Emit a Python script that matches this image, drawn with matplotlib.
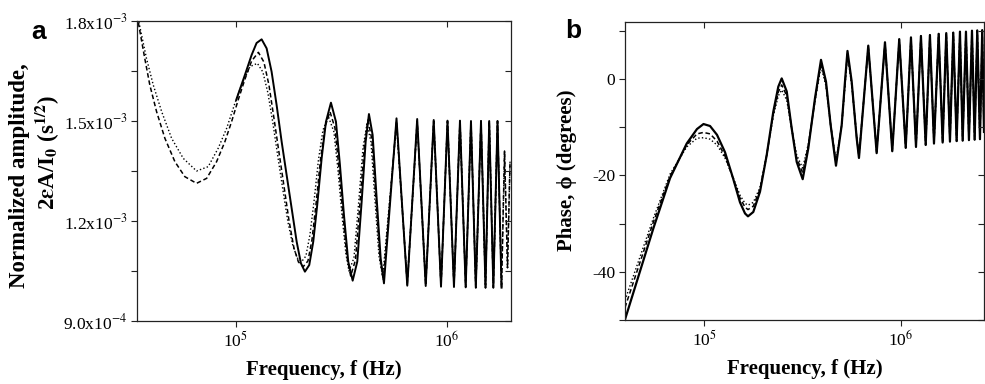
import matplotlib
matplotlib.use("Agg")
import matplotlib.pyplot as plt
import numpy as np

# ---------------- data ----------------
# Panel a: frequency in kHz, normalized amplitude in units of 1e-3 s^1/2
fa_solid = [100.3, 110.3, 118.7, 125.3, 132.4, 139.8, 147.6, 155.9, 164.7, 173.9,
            183.7, 194.0, 203.3, 212.3, 222.6, 232.5, 242.8, 254.8, 267.1, 282.0,
            297.8, 311.1, 325.0, 340.6, 357.4, 375.8, 394.2, 411.8, 426.8, 444.4,
            464.3, 485.1, 502.8, 576.5, 648.4, 722.4, 792.8, 865, 936.7, 1005.5,
            1079, 1152, 1226, 1299, 1369, 1449, 1522, 1585, 1658, 1735, 1813]
va_solid = [1.563, 1.638, 1.698, 1.734, 1.745, 1.718, 1.648, 1.548, 1.438, 1.338,
            1.238, 1.138, 1.073, 1.048, 1.068, 1.138, 1.248, 1.388, 1.498, 1.555,
            1.498, 1.368, 1.218, 1.078, 1.021, 1.078, 1.258, 1.438, 1.521, 1.458,
            1.268, 1.088, 1.013, 1.508, 1.006, 1.506, 1.005, 1.503, 1.003, 1.501,
            1.002, 1.501, 1.001, 1.50, 1.0, 1.5, 1.0, 1.5, 1.0, 1.5, 1.0]

fa_dash = [34.5, 37.0, 39.1, 42.1, 46.1, 51.4, 57.3, 65.1, 72.7, 81.0,
           88.7, 95.4, 102.5, 110.3, 118.7, 127.8, 135.7, 143.4, 151.4, 159.9,
           168.9, 178.3, 188.3, 197.8, 208.4, 219.4, 229.2, 239.4, 251.5, 264.2,
           279.0, 294.6, 307.7, 321.5, 335.8, 349.7, 368.5, 387.0, 406.4, 422.2,
           441.1, 460.8, 481.4, 499.0, 576.5, 648.4, 722.4, 792.8, 865, 936.7,
           1005.5, 1079, 1152, 1226, 1299, 1369, 1449, 1522, 1585, 1658,
           1735, 1813, 1873, 1935, 1989]
va_dash = [1.795, 1.688, 1.608, 1.528, 1.448, 1.378, 1.333, 1.313, 1.328, 1.378,
           1.438, 1.498, 1.563, 1.625, 1.68, 1.706, 1.677, 1.608, 1.509, 1.407,
           1.305, 1.203, 1.119, 1.077, 1.063, 1.080, 1.143, 1.248, 1.383, 1.482,
           1.528, 1.479, 1.359, 1.218, 1.092, 1.035, 1.083, 1.254, 1.428, 1.503,
           1.443, 1.263, 1.089, 1.023, 1.50, 1.01, 1.50, 1.007, 1.50, 1.005,
           1.50, 1.003, 1.50, 1.002, 1.50, 1.0, 1.5, 1.0, 1.5, 1.0,
           1.5, 1.0, 1.41, 1.06, 1.38]

fa_dot = [34.7, 37.7, 40.6, 44.5, 49.6, 56.3, 65.1, 73.9, 82.4, 90.4,
          98.9, 106.4, 116.5, 126.4, 134.2, 141.8, 149.7, 158.1, 167.0, 176.4,
          186.3, 195.6, 204.8, 214.6, 224.2, 234.3, 246.0, 258.5, 274.4, 291.4,
          304.4, 318.0, 332.1, 343.2, 362.4, 380.7, 399.9, 417.7, 436.4, 455.8,
          476.2, 495.8, 576.5, 648.4, 722.4, 792.8, 865, 936.7, 1005.5, 1079,
          1152, 1226, 1299, 1369, 1449, 1522, 1585, 1658, 1735, 1813,
          1873, 1935, 1989]
va_dot = [1.797, 1.688, 1.608, 1.528, 1.448, 1.388, 1.35, 1.363, 1.418, 1.478,
          1.553, 1.608, 1.663, 1.673, 1.647, 1.584, 1.494, 1.392, 1.293, 1.197,
          1.125, 1.089, 1.078, 1.095, 1.158, 1.257, 1.383, 1.473, 1.513, 1.467,
          1.353, 1.218, 1.101, 1.05, 1.089, 1.248, 1.419, 1.491, 1.437, 1.263,
          1.095, 1.032, 1.49, 1.015, 1.495, 1.01, 1.498, 1.007, 1.5, 1.005,
          1.5, 1.003, 1.5, 1.0, 1.5, 1.0, 1.5, 1.0, 1.5, 1.0,
          1.41, 1.06, 1.38]

# Panel b: frequency in kHz, phase in degrees
fb = [39.7, 55.3, 67.2, 81.7, 92.1, 99.4, 107.3, 116.4, 127.8, 140.4,
      152.3, 161.5, 167.2, 177.9, 192.4, 208.1, 224.8, 238.4, 248, 263.0,
      278.7, 295.5, 317, 338.4, 366.0, 392.6, 416.2, 439.6, 467.8, 500,
      519.7, 535.1, 562.0, 595.8, 612, 682.3, 752.6, 829.5, 903.3, 980,
      1057, 1124, 1192, 1263, 1335, 1403, 1471, 1554, 1628, 1698,
      1773, 1843, 1917, 1993, 2057, 2138, 2214, 2294, 2366, 2440,
      2518, 2586, 2640]
pb_solid = [-49.9, -31.0, -20.6, -13.4, -10.4, -9.36, -9.77, -11.6, -15.2, -20.6,
            -25.6, -27.9, -28.5, -27.6, -23.4, -15.8, -6.8, -1.6, 0.1, -2.6,
            -10.25, -17.2, -20.8, -14.4, -4.0, 3.95, -0.56, -9.6, -18.0, -9.6,
            -0.56, 5.8, -0.56, -12.3, -16.4, 6.9, -15.4, 7.6, -15.0, 8.25,
            -14.3, 8.6, -14.1, 8.9, -13.7, 9.1, -13.4, 9.35, -13.2, 9.5,
            -13.0, 9.6, -12.9, 9.8, -12.8, 9.8, -12.7, 10.0, -12.6, 10.05,
            -12.5, 10.1, -11]
pb_dash = [-47.4, -29.7, -20.2, -13.7, -11.4, -11.1, -11.4, -12.9, -16.0, -20.6,
           -24.7, -26.6, -27.1, -26.4, -22.9, -15.8, -7.3, -2.7, -1.25, -3.5,
           -10.25, -16.4, -19.5, -13.9, -4.4, 3.3, -1.0, -9.6, -17.4, -9.6,
           -1.0, 5.4, -0.8, -12.1, -16.1, 6.7, -15.2, 7.5, -14.9, 8.2,
           -14.3, 8.6, -14.1, 8.9, -13.7, 9.1, -13.4, 9.35, -13.2, 9.5,
           -13.0, 9.6, -12.9, 9.8, -12.8, 9.8, -12.7, 10.0, -12.6, 10.05,
           -12.5, 10.1, -11]
pb_dot = [-45.9, -28.9, -19.75, -14.1, -12.3, -12.2, -12.5, -13.7, -16.4, -20.4,
          -24.1, -25.8, -26.2, -25.6, -22.5, -15.8, -7.7, -3.5, -2.3, -4.4,
          -10.4, -15.8, -18.5, -13.5, -4.6, 2.6, -1.5, -9.6, -17.0, -9.6,
          -1.5, 5.0, -1.2, -11.9, -15.7, 6.5, -15.0, 7.3, -14.8, 8.1,
          -14.2, 8.5, -14.0, 8.85, -13.7, 9.1, -13.4, 9.35, -13.2, 9.5,
          -13.0, 9.6, -12.9, 9.8, -12.8, 9.8, -12.7, 10.0, -12.6, 10.05,
          -12.5, 10.1, -11]

# tick values / labels
a_yticks = [9.0e-4, 1.2e-3, 1.5e-3, 1.8e-3]
a_yticklabels = [r"9.0x10$^{-4}$", r"1.2x10$^{-3}$", r"1.5x10$^{-3}$", r"1.8x10$^{-3}$"]
a_yminor = [1.05e-3, 1.35e-3, 1.65e-3]
b_yticks = [-40, -20, 0]
b_yticklabels = ["-40", "-20", "0"]
b_yminor = [-50, -30, -10, 10]
xticks = [1e5, 1e6]
xticklabels = [r"10$^5$", r"10$^6$"]

# ---------------- style ----------------
plt.rcParams['font.family'] = ['Liberation Serif', 'DejaVu Serif']
plt.rcParams['mathtext.fontset'] = 'stix'
plt.rcParams['axes.linewidth'] = 0.9
plt.rcParams['axes.edgecolor'] = '#222222'

W, H = 985, 384
fig = plt.figure(figsize=(W / 100, H / 100), dpi=100)


def rect(l, r, t, b):
    return [l / W, 1 - b / H, (r - l) / W, (b - t) / H]


def style_axes(ax, rc, yt, ytl, ymin):
    ax.set_xscale('log')
    ax.set_xticks(xticks)
    ax.set_xticklabels(xticklabels)
    ax.xaxis.set_minor_locator(matplotlib.ticker.NullLocator())
    ax.set_yticks(yt)
    ax.set_yticklabels(ytl)
    ax.set_yticks(ymin, minor=True)
    ax.tick_params(which='both', direction='out', length=4, width=0.8,
                   labelsize=12.5, top=False, right=False, pad=3,
                   color='#222222')
    axo = fig.add_axes(rc, sharex=ax, sharey=ax, facecolor='none')
    for s in axo.spines.values():
        s.set_visible(False)
    axo.tick_params(which='both', direction='in', length=4, width=0.8,
                    left=False, bottom=False, top=True, right=True,
                    labelleft=False, labelbottom=False, labeltop=False,
                    labelright=False, color='#222222')
    return axo


lab = dict(fontsize=15, fontweight='bold')
laba = dict(fontsize=16.5, fontweight='bold')

# ---------- panel a ----------
ra = rect(137, 511, 21, 321)
ax = fig.add_axes(ra)
k = 1e3
m = 1e-3
ax.plot(np.array(fa_dot) * k, np.array(va_dot) * m, color='k', lw=1.0,
        linestyle=(0, (1, 1.6)))
ax.plot(np.array(fa_dash) * k, np.array(va_dash) * m, color='k', lw=1.1,
        linestyle=(0, (3, 1.8)))
ax.plot(np.array(fa_solid) * k, np.array(va_solid) * m, color='k', lw=1.4)
axo = style_axes(ax, ra, a_yticks, a_yticklabels, a_yminor)
ax.set_xlim(3.4e4, 2.01e6)
ax.set_ylim(9.0e-4, 1.8e-3)
ax.set_xlabel("Frequency, f (Hz)", labelpad=7, **lab)

fig.text(20 / W, 1 - 176 / H, "Normalized amplitude,", rotation=90,
         ha='center', va='center', **laba)
fig.text(48 / W, 1 - 152 / H,
         r"2$\boldsymbol{\varepsilon}$A/I$_\mathbf{0}$ (s$^\mathbf{1/2}$)",
         rotation=90, ha='center', va='center', **laba)
fig.text(31 / W, 1 - 39 / H, "a", family='Liberation Sans', fontsize=19,
         fontweight='bold', ha='left', va='baseline')

# ---------- panel b ----------
rb = rect(625, 984, 22, 320)
bx = fig.add_axes(rb)
fbh = np.array(fb) * k
bx.plot(fbh, pb_dot, color='k', lw=1.0, linestyle=(0, (1, 1.6)))
bx.plot(fbh, pb_dash, color='k', lw=1.1, linestyle=(0, (3, 1.8)))
bx.plot(fbh, pb_solid, color='k', lw=1.6)
bxo = style_axes(bx, rb, b_yticks, b_yticklabels, b_yminor)
bx.set_xlim(3.97e4, 2.64e6)
bx.set_ylim(-50, 11.8)
bx.set_xlabel("Frequency, f (Hz)", labelpad=7, **lab)
fig.text(567 / W, 1 - 170 / H, "Phase, ϕ (degrees)", rotation=90,
         ha='center', va='center', **lab)
fig.text(565 / W, 1 - 38 / H, "b", family='Liberation Sans', fontsize=19,
         fontweight='bold', ha='left', va='baseline')

fig.savefig("out.png", dpi=100)
